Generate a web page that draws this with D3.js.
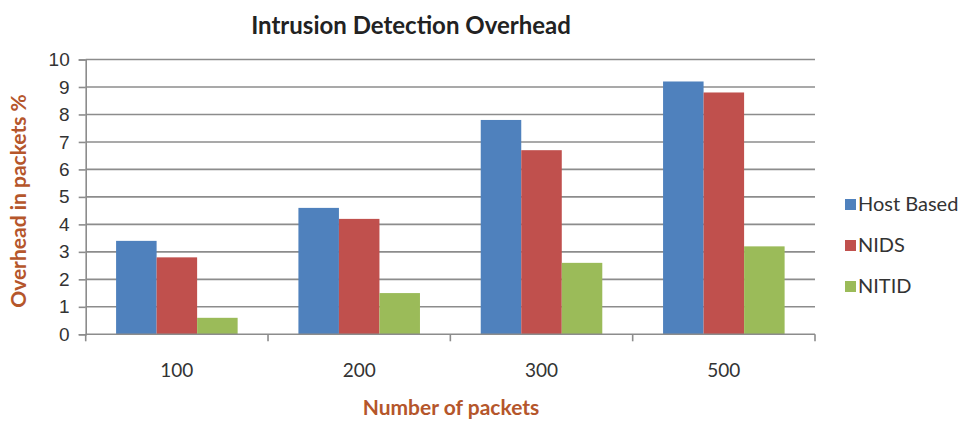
<!DOCTYPE html>
<html>
<head>
<meta charset="utf-8">
<script src="https://cdn.jsdelivr.net/npm/d3@7"></script>
<style>
  html, body { margin: 0; padding: 0; background: #fff; }
  svg { display: block; font-family: Lato, "Open Sans", sans-serif; }
</style>
</head>
<body>
<svg id="chart" width="958" height="421"></svg>
<script>
// Packet counts on the x axis
const categories = ["100", "200", "300", "500"];
// Series names and colours
const seriesNames = ["Host Based", "NIDS", "NITID"];
const seriesColors = ["#4F81BD", "#C0504D", "#9BBB59"];
// Overhead (%) per series, one value per packet count
const hostBased = [3.4, 4.6, 7.8, 9.2];
const nids = [2.8, 4.2, 6.7, 8.8];
const nitid = [0.6, 1.5, 2.6, 3.2];
const yTicks = [0, 1, 2, 3, 4, 5, 6, 7, 8, 9, 10];

const seriesValues = [hostBased, nids, nitid];
const rows = categories.map((c, i) => ({
  cat: c,
  vals: seriesNames.map((s, j) => ({ name: s, value: seriesValues[j][i], color: seriesColors[j] }))
}));

const svg = d3.select("#chart");
const plot = { left: 85.7, right: 815, top: 59.5, bottom: 334.3 };
const axisColor = "#8c8c8c";
const titleColor = "#B5562B";

const x0 = d3.scaleBand().domain(categories)
  .range([plot.left, plot.right]).paddingInner(1 / 3).paddingOuter(1 / 6);
const x1 = d3.scaleBand().domain(seriesNames).range([0, x0.bandwidth()]);
const y = d3.scaleLinear().domain([0, 10]).range([plot.bottom, plot.top]);

// Horizontal gridlines
svg.append("g").selectAll("line").data(yTicks.slice(1)).join("line")
  .attr("x1", plot.left).attr("x2", plot.right)
  .attr("y1", d => y(d)).attr("y2", d => y(d))
  .attr("stroke", axisColor).attr("stroke-width", 1.6);

// Clustered bars
const groups = svg.append("g").selectAll("g").data(rows).join("g")
  .attr("transform", d => `translate(${x0(d.cat)},0)`);
groups.selectAll("rect").data(d => d.vals).join("rect")
  .attr("x", d => x1(d.name))
  .attr("width", x1.bandwidth())
  .attr("y", d => y(d.value))
  .attr("height", d => y(0) - y(d.value))
  .attr("fill", d => d.color);

// Y axis
const yAxis = svg.append("g").attr("transform", `translate(${plot.left},0)`)
  .call(d3.axisLeft(y).tickValues(yTicks).tickSize(7).tickPadding(9).tickFormat(d3.format("d")));
yAxis.select(".domain").attr("stroke", axisColor).attr("stroke-width", 1.6);
yAxis.selectAll(".tick line").attr("stroke", axisColor).attr("stroke-width", 1.6);
yAxis.selectAll("text").attr("font-size", 19).attr("fill", "#333");

// X axis with tick marks on the category boundaries
const xAxisG = svg.append("g");
xAxisG.append("line")
  .attr("x1", plot.left).attr("x2", plot.right)
  .attr("y1", y(0)).attr("y2", y(0))
  .attr("stroke", axisColor).attr("stroke-width", 1.6);
const bounds = d3.range(categories.length + 1).map(i => plot.left + i * x0.step());
xAxisG.selectAll("line.tk").data(bounds).join("line").attr("class", "tk")
  .attr("x1", d => d).attr("x2", d => d)
  .attr("y1", y(0)).attr("y2", y(0) + 7)
  .attr("stroke", axisColor).attr("stroke-width", 1.6);
xAxisG.selectAll("text").data(categories).join("text")
  .attr("x", d => x0(d) + x0.bandwidth() / 2)
  .attr("y", 377)
  .attr("text-anchor", "middle")
  .attr("font-size", 19).attr("fill", "#333")
  .text(d => d);

// Titles
svg.append("text").attr("x", 411).attr("y", 34).attr("text-anchor", "middle")
  .attr("font-size", 24).attr("font-weight", "bold").attr("fill", "#222")
  .text("Intrusion Detection Overhead");
svg.append("text").attr("x", 451).attr("y", 415).attr("text-anchor", "middle")
  .attr("font-size", 21).attr("font-weight", "bold").attr("fill", titleColor)
  .text("Number of packets");
svg.append("text").attr("transform", "translate(26,201) rotate(-90)").attr("text-anchor", "middle")
  .attr("font-size", 21).attr("font-weight", "bold").attr("fill", titleColor)
  .text("Overhead in packets %");

// Legend
const legend = svg.append("g").selectAll("g").data(seriesNames).join("g")
  .attr("transform", (d, i) => `translate(845,${204 + i * 41})`);
legend.append("rect").attr("x", 0).attr("y", -5).attr("width", 11).attr("height", 11)
  .attr("fill", (d, i) => seriesColors[i]);
legend.append("text").attr("x", 13).attr("y", 7)
  .attr("font-size", 20).attr("fill", "#333").text(d => d);
</script>
</body>
</html>
